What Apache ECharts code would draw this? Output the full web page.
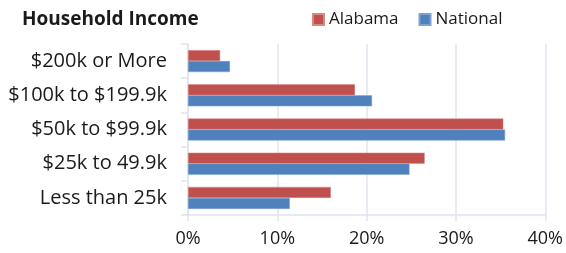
<!DOCTYPE html>
<html>
<head>
<meta charset="utf-8">
<script src="https://cdn.jsdelivr.net/npm/echarts@6/dist/echarts.min.js"></script>
<style>html,body{margin:0;padding:0;background:#fff}#c{width:566px;height:253px}</style>
</head>
<body>
<div id="c"></div>
<script>
const categories = ['Less than 25k', '$25k to 49.9k', '$50k to $99.9k', '$100k to $199.9k', '$200k or More'];
const alabama = [16.0, 26.5, 35.3, 18.7, 3.6];
const national = [11.4, 24.8, 35.5, 20.6, 4.7];
const xTicks = [0, 10, 20, 30, 40];

const FONT = 'Open Sans';
const chart = echarts.init(document.getElementById('c'));
chart.setOption({
  animation: false,
  title: {
    text: 'Household Income', left: 17, top: 5,
    textStyle: { fontFamily: FONT, fontWeight: 'bold', fontSize: 19, color: '#1a1a1a' }
  },
  legend: {
    data: ['Alabama', 'National'], left: 307, top: 6,
    itemWidth: 11, itemHeight: 11, itemGap: 20, icon: 'rect',
    textStyle: { fontFamily: FONT, fontSize: 17, color: '#1a1a1a' }
  },
  grid: { left: 188, right: 20, top: 44, bottom: 38, containLabel: false },
  xAxis: {
    type: 'value', min: xTicks[0], max: xTicks[xTicks.length - 1], interval: 10,
    axisLabel: { formatter: '{value}%', fontFamily: FONT, fontSize: 18, color: '#1a1a1a', margin: 15 },
    axisLine: { show: true, lineStyle: { color: '#dfe4ee', width: 1.5 } },
    axisTick: { show: true, length: 6, lineStyle: { color: '#dfe4ee', width: 1.5 } },
    splitLine: { show: true, lineStyle: { color: '#dfe4ee', width: 1.5 } }
  },
  yAxis: {
    type: 'category', data: categories,
    axisLabel: { fontFamily: FONT, fontSize: 20, color: '#1a1a1a', margin: 21 },
    axisLine: { show: true, lineStyle: { color: '#dfe4ee', width: 1.5 } },
    axisTick: { show: true, length: 7, lineStyle: { color: '#dfe4ee', width: 1.5 } }
  },
  series: [
    { name: 'Alabama', type: 'bar', data: alabama, barWidth: 11, barGap: '0%', barCategoryGap: '35%',
      itemStyle: { color: '#c0504d', borderColor: '#d68a88', borderWidth: 0.5 } },
    { name: 'National', type: 'bar', data: national, barWidth: 11, barGap: '0%', barCategoryGap: '35%',
      itemStyle: { color: '#4f81bd', borderColor: '#7fa3d0', borderWidth: 0.5 } }
  ]
});
</script>
</body>
</html>
